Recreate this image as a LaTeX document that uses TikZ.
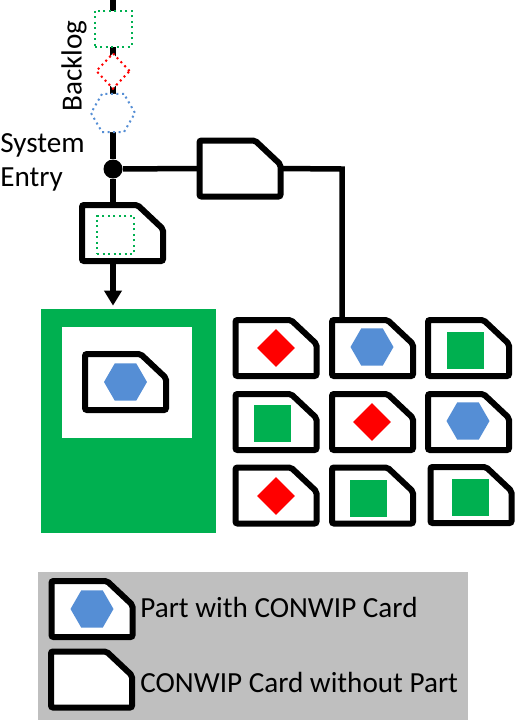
\documentclass[tikz,border=0pt]{standalone}
\usepackage{fontspec}
\setmainfont{Carlito}
\usetikzlibrary{arrows.meta,shapes.geometric}
\pgfmathsetlengthmacro\px{0.02cm}
\tikzset{
  flowline/.style={draw=black, line width=5.5*\px},
  cardline/.style={draw=black, fill=white, line width=6*\px, rounded corners=2*\px},
  junction/.style={circle, fill=black, minimum size=19*\px, inner sep=0},
  lbl/.style={font=\fontsize{16.6}{19.3}\selectfont, inner sep=0},
  partsquare/.style={fill=partgreen, minimum size=37*\px, inner sep=0},
  partdiamond/.style={diamond, fill=partred, minimum width=38*\px, minimum height=38*\px, inner sep=0},
  parthex/.style={regular polygon, regular polygon sides=6, fill=partblue, minimum size=43*\px, inner sep=0},
  backsquare/.style={draw=partgreen, fill=white, dotted, line width=2*\px, minimum width=37*\px, minimum height=36*\px, inner sep=0},
  backdiamond/.style={diamond, draw=partred, fill=white, dotted, line width=2*\px, minimum width=34*\px, minimum height=36*\px, inner sep=0},
  backhex/.style={regular polygon, regular polygon sides=6, draw=partblue, fill=white, dotted, line width=2*\px, minimum size=44*\px, inner sep=0},
  card/.pic={
    \draw[cardline] (-40.5,28) -- (-40.5,-28) -- (15,-28) -- (40.5,-4) -- (40.5,28) -- cycle;
    \coordinate (-n) at (0,-28);
    \coordinate (-s) at (0,28);
    \coordinate (-w) at (-40.5,0);
    \coordinate (-e) at (40.5,0);
  }
}
\begin{document}
\begin{tikzpicture}[x=\px, y=-\px]
\useasboundingbox (0,0) rectangle (518,721);
\definecolor{partgreen}{HTML}{00B050}
\definecolor{partred}{HTML}{FF0000}
\definecolor{partblue}{HTML}{558ED5}
\definecolor{legendgray}{HTML}{BFBFBF}
\coordinate (top) at (113,0);
\node[junction] (j) at (113,169) {};
\draw[flowline] (top) -- (j);
\node[backsquare] (b1) at (113,28.5) {};
\node[backdiamond] (b2) at (113,71) {};
\node[backhex] (b3) at (113,113) {};
\node[lbl, rotate=90] (backlog) at (74,66) {Backlog};
\node[lbl, anchor=north west, align=left] (entry) at (0,133) {System\\Entry};
\node[fill=partgreen, minimum width=175*\px, minimum height=224*\px, inner sep=0] (st) at (128.5,421) {};
\node[fill=white, minimum width=130*\px, minimum height=111*\px, inner sep=0] (slot) at (127,382.5) {};
\pic (sc) at (125.5,382) {card};
\node[parthex] (sp) at (125.5,382) {};
\pic (kc) at (240,168.5) {card};
\pic (dc) at (122.5,233) {card};
\node[backsquare, minimum height=38*\px] (dp) at (115.5,235) {};
\foreach \cx/\cy/\qx/\qy/\part [count=\i] in {276/348/276/348/partdiamond, 372.5/348/372/347/parthex, 468.5/348/465/350/partsquare, 276/422/272/423/partsquare, 372.5/422/372/422/partdiamond, 468.5/422/468/421/parthex, 276/495.5/276/496/partdiamond, 372.5/495.5/368/498/partsquare, 471/495/470/497/partsquare}
{
\pic (g\i) at (\cx,\cy) {card};
\node[\part] (p\i) at (\qx,\qy) {};
}
\coordinate (turn) at (342,169);
\draw[flowline] (j) -- (kc-w);
\draw[flowline] (kc-e) -- (turn) -- (turn |- g2-n);
\draw[flowline] (j) -- (j |- dc-n);
\draw[flowline, -{Triangle[width=17*\px, length=15*\px]}, shorten >=3*\px] (j |- dc-s) -- (j |- st.north);
\node[fill=legendgray, minimum width=430*\px, minimum height=148*\px, inner sep=0] (legend) at (253,646) {};
\pic (lc1) at (92,609) {card};
\node[parthex] (lp) at (92,609) {};
\node[lbl, anchor=base west] (lt1) at (140,617) {Part with CONWIP Card};
\pic (lc2) at (91.5,679.5) {card};
\node[lbl, anchor=base west] (lt2) at (140,692) {CONWIP Card without Part};
\end{tikzpicture}
\end{document}
